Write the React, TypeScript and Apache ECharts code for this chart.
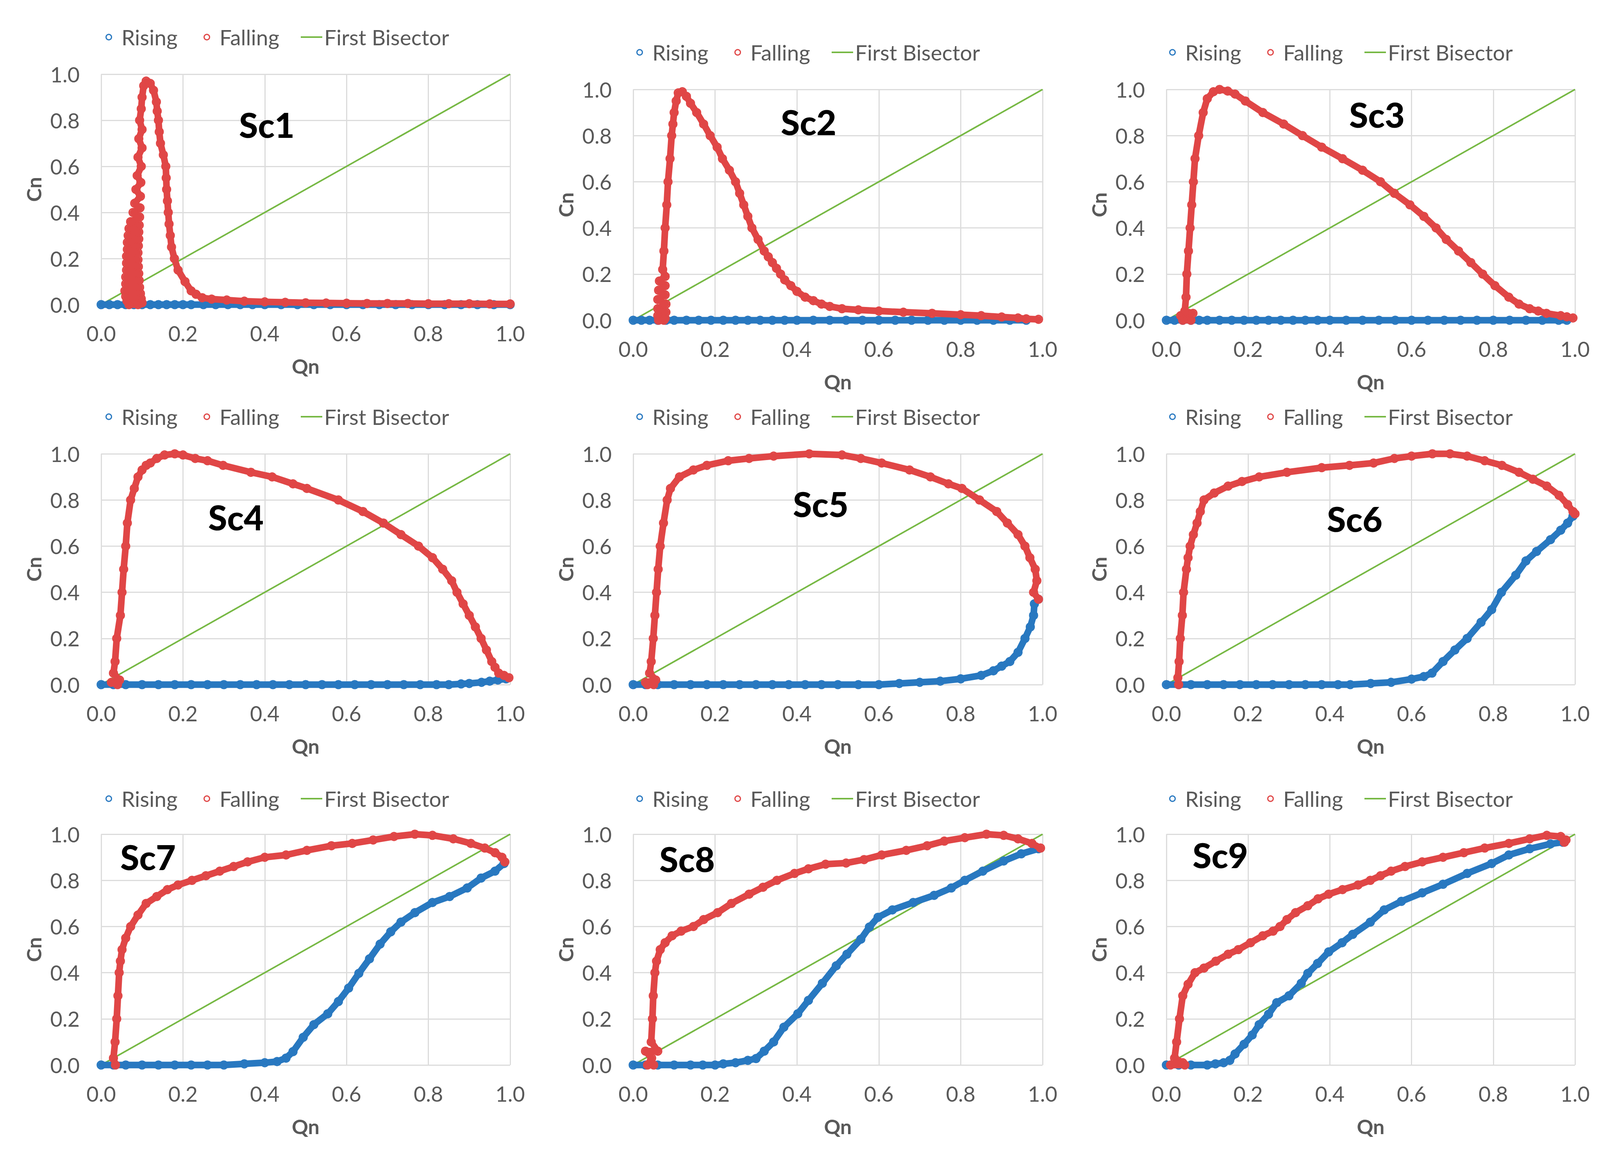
import React, { useEffect, useRef } from "react";
import * as echarts from "echarts";

// ---------- data ----------
const panelNames = ["Sc1", "Sc2", "Sc3", "Sc4", "Sc5", "Sc6", "Sc7", "Sc8", "Sc9"];
const legendNames = ["Rising", "Falling", "First Bisector"];
const axisMin = 0;
const axisMax = 1;
const axisStep = 0.2;
const bisector = [[0, 0], [1, 1]];

const sc1Rising = [[0,0],[0.02,0],[0.04,0],[0.06,0],[0.08,0],[0.1,0],[0.12,0],[0.14,0],[0.16,0],[0.18,0],[0.2,0],[0.22,0],[0.25,0],[0.28,0],[0.31,0],[0.34,0],[0.37,0],[0.4,0],[0.44,0],[0.48,0],[0.52,0],[0.56,0],[0.6,0],[0.64,0],[0.68,0],[0.72,0],[0.76,0],[0.8,0],[0.84,0],[0.88,0],[0.92,0],[0.96,0],[1.0,0]];
const sc1Falling = [[1.0,0.003],[0.95,0.003],[0.9,0.004],[0.85,0.004],[0.8,0.004],[0.75,0.005],[0.7,0.005],[0.65,0.005],[0.6,0.006],[0.55,0.007],[0.5,0.008],[0.45,0.01],[0.4,0.012],[0.35,0.015],[0.307,0.02],[0.27,0.024],[0.247,0.03],[0.232,0.045],[0.22,0.06],[0.205,0.1],[0.188,0.15],[0.179,0.2],[0.172,0.25],[0.169,0.3],[0.166,0.35],[0.164,0.4],[0.162,0.45],[0.16,0.5],[0.159,0.55],[0.158,0.6],[0.152,0.65],[0.145,0.7],[0.142,0.75],[0.14,0.8],[0.137,0.84],[0.135,0.88],[0.128,0.93],[0.12,0.96],[0.11,0.97],[0.104,0.95],[0.1,0.9],[0.098,0.85],[0.094,0.8],[0.1,0.76],[0.092,0.72],[0.1,0.68],[0.09,0.64],[0.098,0.6],[0.088,0.56],[0.097,0.53],[0.085,0.5],[0.096,0.47],[0.082,0.44],[0.095,0.42],[0.078,0.4],[0.094,0.38],[0.072,0.36],[0.093,0.345],[0.068,0.33],[0.092,0.315],[0.066,0.3],[0.092,0.285],[0.064,0.27],[0.091,0.255],[0.064,0.24],[0.09,0.225],[0.062,0.21],[0.09,0.195],[0.062,0.18],[0.091,0.165],[0.062,0.15],[0.092,0.135],[0.06,0.12],[0.093,0.105],[0.06,0.09],[0.094,0.075],[0.058,0.06],[0.096,0.048],[0.06,0.036],[0.098,0.026],[0.063,0.016],[0.1,0.008],[0.068,0.0],[0.09,0.0]];

const sc2Rising = [[0,0],[0.02,0],[0.04,0],[0.06,0],[0.08,0],[0.1,0],[0.13,0],[0.16,0],[0.19,0],[0.22,0],[0.25,0],[0.28,0],[0.31,0],[0.34,0],[0.37,0],[0.4,0],[0.44,0],[0.48,0],[0.52,0],[0.56,0],[0.6,0],[0.64,0],[0.68,0],[0.72,0],[0.76,0],[0.8,0],[0.84,0],[0.88,0],[0.92,0],[0.96,0]];
const sc2Falling = [[0.99,0.004],[0.96,0.006],[0.94,0.01],[0.9,0.014],[0.85,0.02],[0.8,0.024],[0.73,0.03],[0.66,0.035],[0.6,0.04],[0.55,0.045],[0.51,0.05],[0.48,0.06],[0.46,0.07],[0.44,0.085],[0.42,0.1],[0.4,0.125],[0.385,0.15],[0.37,0.175],[0.36,0.2],[0.35,0.225],[0.34,0.25],[0.33,0.275],[0.32,0.3],[0.305,0.35],[0.29,0.4],[0.28,0.45],[0.27,0.5],[0.26,0.55],[0.25,0.6],[0.235,0.65],[0.218,0.7],[0.205,0.75],[0.188,0.8],[0.172,0.85],[0.155,0.9],[0.14,0.94],[0.13,0.97],[0.12,0.99],[0.11,0.985],[0.105,0.95],[0.1,0.9],[0.097,0.85],[0.094,0.8],[0.09,0.7],[0.085,0.6],[0.082,0.5],[0.078,0.4],[0.075,0.3],[0.072,0.22],[0.078,0.19],[0.064,0.17],[0.078,0.15],[0.062,0.13],[0.078,0.11],[0.06,0.09],[0.08,0.07],[0.06,0.05],[0.08,0.035],[0.06,0.02],[0.078,0.008],[0.062,0.0],[0.075,0.0]];

const sc3Rising = [[0,0],[0.02,0],[0.04,0],[0.06,0],[0.08,0],[0.1,0],[0.13,0],[0.16,0],[0.19,0],[0.22,0],[0.25,0],[0.28,0],[0.31,0],[0.34,0],[0.37,0],[0.4,0],[0.44,0],[0.48,0],[0.52,0],[0.56,0],[0.6,0],[0.64,0],[0.68,0],[0.72,0],[0.76,0],[0.8,0],[0.84,0],[0.88,0],[0.92,0],[0.96,0],[0.98,0]];
const sc3Falling = [[0.995,0.01],[0.98,0.015],[0.965,0.02],[0.93,0.03],[0.91,0.04],[0.889,0.05],[0.863,0.07],[0.838,0.1],[0.804,0.15],[0.774,0.2],[0.745,0.25],[0.715,0.3],[0.685,0.35],[0.66,0.4],[0.63,0.45],[0.596,0.5],[0.558,0.55],[0.524,0.6],[0.48,0.65],[0.431,0.7],[0.38,0.75],[0.333,0.8],[0.287,0.85],[0.236,0.9],[0.193,0.95],[0.168,0.98],[0.15,0.993],[0.13,1.0],[0.115,0.99],[0.1,0.96],[0.09,0.9],[0.079,0.8],[0.07,0.7],[0.066,0.6],[0.062,0.5],[0.058,0.4],[0.054,0.3],[0.05,0.2],[0.048,0.1],[0.045,0.04],[0.065,0.03],[0.035,0.02],[0.06,0.0],[0.04,0.0]];

const sc4Rising = [[0,0],[0.03,0],[0.06,0],[0.1,0],[0.14,0],[0.18,0],[0.22,0],[0.26,0],[0.3,0],[0.34,0],[0.38,0],[0.42,0],[0.46,0],[0.5,0],[0.54,0],[0.58,0],[0.62,0],[0.66,0],[0.7,0],[0.74,0],[0.78,0],[0.82,0],[0.85,0],[0.88,0.003],[0.9,0.005],[0.93,0.01],[0.95,0.015],[0.97,0.02],[0.99,0.025]];
const sc4Falling = [[0.997,0.03],[0.985,0.04],[0.972,0.05],[0.963,0.075],[0.955,0.1],[0.942,0.15],[0.929,0.2],[0.915,0.25],[0.9,0.3],[0.885,0.35],[0.87,0.4],[0.857,0.45],[0.835,0.5],[0.81,0.55],[0.776,0.6],[0.733,0.65],[0.69,0.7],[0.64,0.75],[0.58,0.8],[0.503,0.85],[0.469,0.87],[0.418,0.9],[0.366,0.92],[0.298,0.95],[0.26,0.97],[0.23,0.98],[0.2,0.995],[0.18,1.0],[0.155,0.995],[0.136,0.98],[0.12,0.96],[0.11,0.95],[0.1,0.93],[0.09,0.9],[0.081,0.85],[0.072,0.8],[0.064,0.7],[0.06,0.6],[0.055,0.5],[0.051,0.4],[0.047,0.3],[0.038,0.2],[0.034,0.1],[0.03,0.05],[0.045,0.02],[0.025,0.01],[0.04,0.0]];

const sc5Rising = [[0,0],[0.03,0],[0.06,0],[0.1,0],[0.14,0],[0.18,0],[0.22,0],[0.26,0],[0.3,0],[0.34,0],[0.38,0],[0.42,0],[0.46,0],[0.5,0],[0.55,0],[0.6,0],[0.65,0.005],[0.7,0.01],[0.75,0.015],[0.8,0.025],[0.85,0.04],[0.88,0.06],[0.9,0.08],[0.92,0.1],[0.94,0.14],[0.957,0.2],[0.97,0.25],[0.978,0.3],[0.98,0.35],[0.99,0.37]];
const sc5Falling = [[0.99,0.37],[0.978,0.4],[0.986,0.45],[0.982,0.5],[0.969,0.55],[0.957,0.6],[0.94,0.65],[0.914,0.7],[0.888,0.75],[0.846,0.8],[0.803,0.85],[0.77,0.87],[0.726,0.9],[0.675,0.93],[0.607,0.96],[0.556,0.98],[0.51,0.995],[0.43,1.0],[0.343,0.99],[0.283,0.98],[0.232,0.97],[0.18,0.95],[0.147,0.93],[0.113,0.9],[0.091,0.85],[0.083,0.8],[0.074,0.7],[0.066,0.6],[0.061,0.5],[0.057,0.4],[0.053,0.3],[0.049,0.2],[0.044,0.1],[0.04,0.05],[0.055,0.02],[0.03,0.01],[0.05,0.0],[0.035,0.0]];

const sc6Rising = [[0,0],[0.03,0],[0.06,0],[0.1,0],[0.14,0],[0.18,0],[0.22,0],[0.26,0],[0.3,0],[0.34,0],[0.38,0],[0.42,0],[0.45,0],[0.5,0.005],[0.55,0.01],[0.6,0.024],[0.63,0.035],[0.65,0.05],[0.677,0.1],[0.706,0.15],[0.736,0.2],[0.77,0.27],[0.796,0.325],[0.82,0.4],[0.855,0.474],[0.88,0.536],[0.906,0.577],[0.94,0.628],[0.965,0.669],[0.982,0.7],[0.995,0.73]];
const sc6Falling = [[1.0,0.74],[0.995,0.75],[0.982,0.78],[0.961,0.82],[0.931,0.86],[0.897,0.89],[0.863,0.92],[0.821,0.95],[0.779,0.97],[0.736,0.99],[0.694,1.0],[0.651,1.0],[0.6,0.99],[0.558,0.98],[0.507,0.96],[0.448,0.95],[0.38,0.94],[0.295,0.92],[0.227,0.9],[0.185,0.88],[0.151,0.86],[0.117,0.83],[0.092,0.8],[0.083,0.75],[0.075,0.7],[0.066,0.65],[0.058,0.6],[0.053,0.55],[0.049,0.5],[0.042,0.4],[0.039,0.3],[0.034,0.2],[0.031,0.1],[0.028,0.03],[0.03,0.0]];

const sc7Rising = [[0,0],[0.03,0],[0.06,0],[0.1,0],[0.14,0],[0.18,0],[0.22,0],[0.26,0],[0.3,0],[0.35,0.005],[0.4,0.01],[0.43,0.015],[0.452,0.03],[0.469,0.058],[0.494,0.12],[0.52,0.175],[0.554,0.222],[0.58,0.275],[0.605,0.333],[0.63,0.397],[0.656,0.46],[0.682,0.524],[0.708,0.577],[0.733,0.619],[0.767,0.66],[0.81,0.704],[0.852,0.73],[0.895,0.767],[0.929,0.81],[0.963,0.84],[0.985,0.873]];
const sc7Falling = [[0.987,0.88],[0.98,0.9],[0.963,0.92],[0.938,0.94],[0.904,0.96],[0.861,0.98],[0.81,0.995],[0.767,1.0],[0.716,0.99],[0.665,0.975],[0.614,0.96],[0.563,0.95],[0.503,0.93],[0.452,0.91],[0.4,0.9],[0.358,0.88],[0.324,0.86],[0.29,0.84],[0.256,0.82],[0.222,0.8],[0.188,0.78],[0.162,0.76],[0.136,0.73],[0.11,0.7],[0.09,0.65],[0.072,0.6],[0.06,0.55],[0.051,0.5],[0.047,0.45],[0.044,0.4],[0.041,0.3],[0.038,0.2],[0.034,0.1],[0.03,0.03],[0.035,0.0]];

const sc8Rising = [[0,0],[0.03,0],[0.06,0],[0.1,0],[0.14,0],[0.17,0],[0.2,0],[0.22,0.005],[0.25,0.01],[0.28,0.02],[0.3,0.028],[0.32,0.06],[0.343,0.1],[0.368,0.164],[0.402,0.222],[0.428,0.28],[0.462,0.354],[0.496,0.43],[0.522,0.48],[0.556,0.545],[0.577,0.598],[0.598,0.64],[0.633,0.672],[0.684,0.704],[0.735,0.735],[0.777,0.767],[0.81,0.8],[0.854,0.84],[0.905,0.884],[0.948,0.915],[0.99,0.937]];
const sc8Falling = [[0.995,0.94],[0.974,0.96],[0.94,0.98],[0.905,0.995],[0.863,1.0],[0.81,0.985],[0.76,0.97],[0.718,0.95],[0.667,0.93],[0.607,0.91],[0.564,0.89],[0.52,0.875],[0.47,0.87],[0.428,0.85],[0.394,0.83],[0.351,0.8],[0.317,0.77],[0.283,0.74],[0.24,0.7],[0.206,0.66],[0.172,0.63],[0.147,0.6],[0.117,0.58],[0.095,0.56],[0.078,0.53],[0.066,0.5],[0.057,0.45],[0.053,0.4],[0.049,0.3],[0.047,0.2],[0.044,0.1],[0.06,0.06],[0.03,0.06],[0.045,0.03],[0.035,0.0],[0.05,0.0]];

const sc9Rising = [[0,0],[0.03,0],[0.06,0],[0.1,0],[0.12,0.005],[0.14,0.01],[0.155,0.02],[0.168,0.048],[0.19,0.09],[0.21,0.13],[0.227,0.175],[0.25,0.22],[0.27,0.27],[0.3,0.3],[0.33,0.354],[0.346,0.397],[0.37,0.44],[0.397,0.49],[0.43,0.53],[0.456,0.566],[0.499,0.619],[0.533,0.672],[0.575,0.709],[0.626,0.746],[0.677,0.783],[0.736,0.83],[0.796,0.873],[0.838,0.91],[0.889,0.937],[0.94,0.958],[0.97,0.965]];
const sc9Falling = [[0.974,0.965],[0.978,0.975],[0.965,0.99],[0.931,0.995],[0.889,0.98],[0.838,0.96],[0.779,0.94],[0.728,0.92],[0.677,0.9],[0.626,0.88],[0.584,0.86],[0.55,0.84],[0.524,0.82],[0.499,0.8],[0.469,0.78],[0.431,0.76],[0.397,0.74],[0.371,0.72],[0.346,0.69],[0.316,0.66],[0.295,0.63],[0.278,0.6],[0.261,0.58],[0.236,0.56],[0.206,0.53],[0.176,0.5],[0.151,0.48],[0.121,0.45],[0.092,0.42],[0.07,0.4],[0.053,0.35],[0.04,0.3],[0.032,0.2],[0.025,0.1],[0.02,0.03],[0.04,0.01],[0.01,0.0],[0.045,0.0]];

const risingData = [sc1Rising, sc2Rising, sc3Rising, sc4Rising, sc5Rising, sc6Rising, sc7Rising, sc8Rising, sc9Rising];
const fallingData = [sc1Falling, sc2Falling, sc3Falling, sc4Falling, sc5Falling, sc6Falling, sc7Falling, sc8Falling, sc9Falling];

// ---------- layout / style ----------
const W = 4171;
const H = 2960;
const BLUE = "#2878C0";
const RED = "#E04646";
const GREEN = "#76B843";
const GREY = "#595959";
const FONT = "Lato";

const grids = [
  { left: 259, top: 190, width: 1047, height: 590 },
  { left: 1621, top: 229, width: 1048, height: 591 },
  { left: 2986, top: 229, width: 1046, height: 591 },
  { left: 259, top: 1162, width: 1047, height: 591 },
  { left: 1621, top: 1162, width: 1048, height: 591 },
  { left: 2986, top: 1162, width: 1046, height: 591 },
  { left: 259, top: 2136, width: 1047, height: 591 },
  { left: 1621, top: 2136, width: 1048, height: 591 },
  { left: 2986, top: 2136, width: 1046, height: 591 },
];
// left edge of the first legend icon box, and vertical centre of the legend row
const legendPos = [
  [251, 95], [1610, 134], [2974, 134],
  [251, 1067], [1610, 1067], [2974, 1067],
  [251, 2045], [1610, 2045], [2974, 2045],
];
const legendItemOffset = [19, 270, 519];
const titlePos = [
  [683, 319], [2070, 312], [3525, 293],
  [604, 1324], [2101, 1290], [3468, 1328],
  [379, 2194], [1759, 2199], [3124, 2189],
];

function buildOption() {
  const xAxis: any[] = [];
  const yAxis: any[] = [];
  const series: any[] = [];
  const legend: any[] = [];
  const graphic: any[] = [];
  const splitLine = { show: true, lineStyle: { color: "#DCDCDC", width: 3 } };
  const labelStyle = { fontSize: 54, color: GREY, fontFamily: FONT, lineHeight: 54 };
  const nameStyle = { fontSize: 52, color: GREY, fontFamily: FONT, fontWeight: "bold", lineHeight: 52 };
  const hollow = (c: string) => ({ color: "rgba(255,255,255,0)", borderColor: c, borderWidth: 3.5 });
  const legendItems = [
    { name: legendNames[0], icon: "circle", itemStyle: { color: "rgba(255,255,255,0)", borderColor: BLUE, borderWidth: 3 } },
    { name: legendNames[1], icon: "circle", itemStyle: { color: "rgba(255,255,255,0)", borderColor: RED, borderWidth: 3 } },
    { name: legendNames[2], icon: "path://M0,0h110v8h-110z", itemStyle: { color: GREEN, borderWidth: 0 } },
  ];

  panelNames.forEach((name, i) => {
    xAxis.push({
      type: "value", gridIndex: i, min: axisMin, max: axisMax, interval: axisStep,
      name: "Qn", nameLocation: "middle", nameGap: 131, nameTextStyle: nameStyle,
      axisLine: { show: false }, axisTick: { show: false }, splitLine,
      axisLabel: { ...labelStyle, margin: 46, formatter: (v: number) => v.toFixed(1) },
    });
    yAxis.push({
      type: "value", gridIndex: i, min: axisMin, max: axisMax, interval: axisStep,
      name: "Cn", nameLocation: "middle", nameGap: 147, nameRotate: 90, nameTextStyle: nameStyle,
      axisLine: { show: false }, axisTick: { show: false }, splitLine,
      axisLabel: { ...labelStyle, margin: 55, formatter: (v: number) => v.toFixed(1) },
    });
    series.push({
      name: legendNames[2], type: "line", xAxisIndex: i, yAxisIndex: i,
      data: bisector, symbol: "none", clip: false,
      lineStyle: { color: GREEN, width: 4 }, itemStyle: { color: GREEN }, z: 2,
    });
    series.push({
      name: legendNames[0], type: "line", xAxisIndex: i, yAxisIndex: i,
      data: risingData[i], symbol: "circle", symbolSize: 20, clip: false,
      lineStyle: { color: BLUE, width: 17, cap: "round", join: "round" },
      itemStyle: hollow(BLUE), z: 3,
    });
    series.push({
      name: legendNames[1], type: "line", xAxisIndex: i, yAxisIndex: i,
      data: fallingData[i], symbol: "circle", symbolSize: 20, clip: false,
      lineStyle: { color: RED, width: 17, cap: "round", join: "round" },
      itemStyle: hollow(RED), z: 4,
    });
    legendItems.forEach((item, k) => {
      legend.push({
        left: legendPos[i][0] + legendItemOffset[k], top: legendPos[i][1] - 30, padding: 0,
        itemWidth: 55, itemHeight: 14, itemGap: 0, selectedMode: false,
        textStyle: { fontSize: 55, color: GREY, fontFamily: FONT, lineHeight: 60 },
        data: [item],
      });
    });
    graphic.push({
      type: "text", x: titlePos[i][0], y: titlePos[i][1], z: 10,
      style: {
        text: name, fill: "#000", fontSize: 88, fontWeight: 900, fontFamily: FONT,
        align: "center", verticalAlign: "middle", textAlign: "center", textVerticalAlign: "middle",
      },
    });
  });

  return {
    animation: false,
    backgroundColor: "#ffffff",
    grid: grids,
    xAxis, yAxis, series, legend, graphic,
  };
}

export default function App() {
  const ref = useRef<HTMLDivElement>(null);
  useEffect(() => {
    if (!ref.current) return;
    const chart = echarts.init(ref.current, undefined, { renderer: "svg" });
    chart.setOption(buildOption());
    return () => chart.dispose();
  }, []);
  return <div ref={ref} style={{ position: "absolute", left: 0, top: 0, width: W, height: H }} />;
}
